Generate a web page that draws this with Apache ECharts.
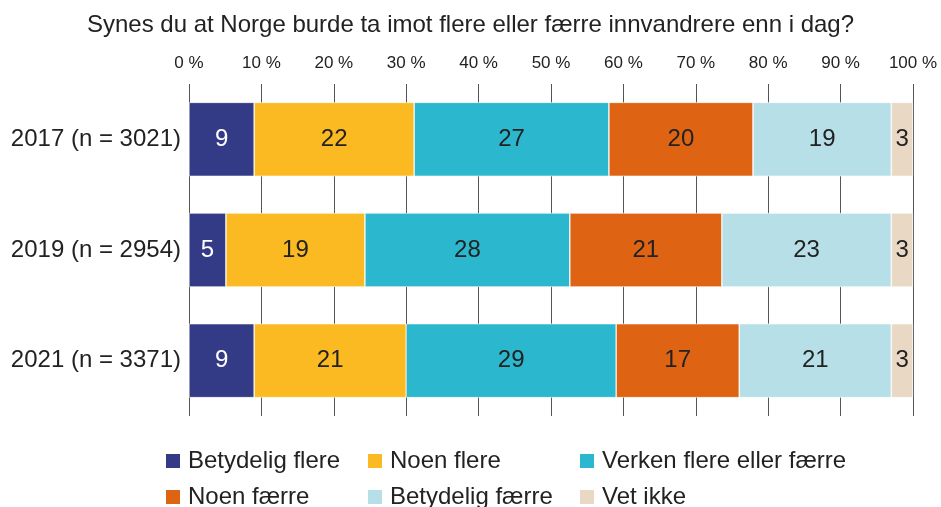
<!DOCTYPE html>
<html>
<head>
<meta charset="utf-8">
<script src="https://cdn.jsdelivr.net/npm/echarts@6/dist/echarts.min.js"></script>
<style>
  html, body { margin: 0; padding: 0; background: #fff; }
  #chart { width: 941px; height: 507px; }
</style>
</head>
<body>
<div id="chart"></div>
<script>
// Synes du at Norge burde ta imot flere eller færre innvandrere enn i dag?
const categories = ['2017 (n = 3021)', '2019 (n = 2954)', '2021 (n = 3371)'];
const seriesNames = ['Betydelig flere', 'Noen flere', 'Verken flere eller færre', 'Noen færre', 'Betydelig færre', 'Vet ikke'];
const betydeligFlere = [9, 5.1, 9];
const noenFlere = [22.1, 19.2, 21];
const verken = [26.9, 28.3, 29];
const noenFaerre = [19.9, 21, 17];
const betydeligFaerre = [19.1, 23.4, 21];
const vetIkke = [3, 3, 3];
const colors = ['#333b86', '#fbba21', '#2bb7cd', '#de6414', '#b7dfe8', '#e9d9c4'];

const values = [betydeligFlere, noenFlere, verken, noenFaerre, betydeligFaerre, vetIkke];
const font = 'Liberation Sans, Arial, sans-serif';

const chart = echarts.init(document.getElementById('chart'));

// tegnforklaring: tre kolonner, to rader
const legendCols = [164, 366, 578, 164, 366, 578];
const legendRows = [449, 449, 449, 485, 485, 485];

chart.setOption({
  animation: false,
  textStyle: { fontFamily: font },
  title: {
    text: 'Synes du at Norge burde ta imot flere eller færre innvandrere enn i dag?',
    left: 'center',
    top: 8,
    textStyle: { fontFamily: font, fontSize: 24, fontWeight: 'normal', color: '#222' },
  },
  grid: { left: 189, right: 28, top: 84, bottom: 91 },
  xAxis: {
    type: 'value',
    position: 'top',
    min: 0,
    max: 100,
    interval: 10,
    axisLine: { show: false },
    axisTick: { show: false },
    axisLabel: {
      formatter: '{value} %',
      fontSize: 17,
      color: '#222',
      margin: 12,
      fontFamily: font,
    },
    splitLine: { lineStyle: { color: '#555', width: 1 } },
  },
  yAxis: {
    type: 'category',
    inverse: true,
    data: categories,
    axisLine: { show: false },
    axisTick: { show: false },
    axisLabel: { fontSize: 24, color: '#222', margin: 8, fontFamily: font },
  },
  legend: seriesNames.map((name, i) => ({
    left: legendCols[i],
    top: legendRows[i],
    padding: 0,
    itemWidth: 16,
    itemHeight: 16,
    icon: 'rect',
    data: [name],
    textStyle: { fontSize: 24, color: '#222', fontFamily: font, padding: [0, 0, 0, 2] },
  })),
  series: seriesNames.map((name, i) => ({
    name,
    type: 'bar',
    stack: 'total',
    barWidth: 74,
    data: values[i],
    itemStyle: { color: colors[i], borderColor: '#fff', borderWidth: 0.6 },
    label: {
      show: true,
      position: 'inside',
      formatter: p => Math.round(p.value),
      fontSize: 24,
      fontFamily: font,
      color: i === 0 ? '#fff' : '#222',
    },
  })),
});
</script>
</body>
</html>
